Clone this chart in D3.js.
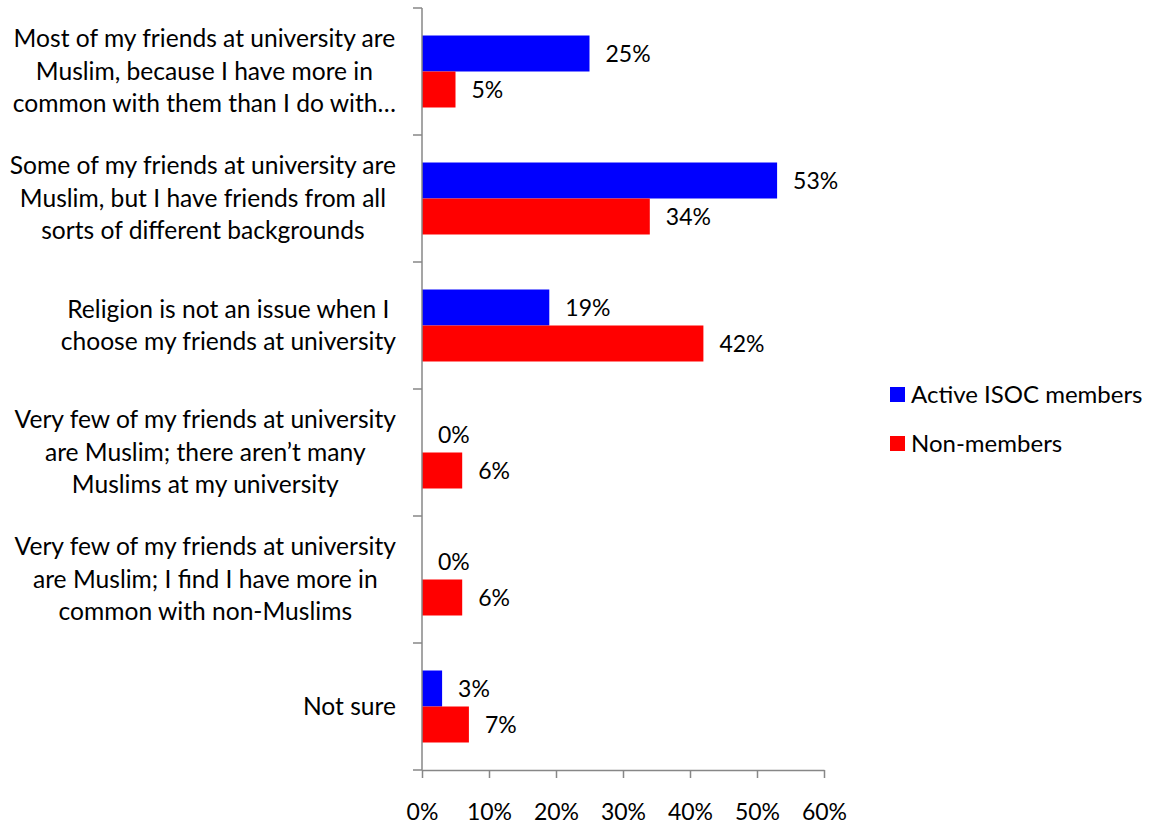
<!DOCTYPE html>
<html>
<head>
<meta charset="utf-8">
<script src="https://cdn.jsdelivr.net/npm/d3@7"></script>
<style>
  html, body { margin: 0; padding: 0; background: #fff; }
  svg { display: block; }
  text { font-family: Lato, "Open Sans", sans-serif; fill: #000; }
</style>
</head>
<body>
<svg id="chart" width="1151" height="826"></svg>
<script>
// Survey answers (wrapped as shown on the axis)
const categories = [
  "Most of my friends at university are\nMuslim, because I have more in\ncommon with them than I do with…",
  "Some of my friends at university are\nMuslim, but I have friends from all\nsorts of different backgrounds",
  "Religion is not an issue when I\nchoose my friends at university",
  "Very few of my friends at university\nare Muslim; there aren’t many\nMuslims at my university",
  "Very few of my friends at university\nare Muslim; I find I have more in\ncommon with non-Muslims",
  "Not sure"
];
const seriesNames = ["Active ISOC members", "Non-members"];
const activeMembers = [0.25, 0.53, 0.19, 0.00, 0.00, 0.03];
const nonMembers    = [0.05, 0.34, 0.42, 0.06, 0.06, 0.07];
const xTicks = [0, 0.1, 0.2, 0.3, 0.4, 0.5, 0.6];

const colors = { "Active ISOC members": "#0000ff", "Non-members": "#ff0000" };
const FS_CAT = 24.6;      // category label size
const FS_NUM = 23;        // value and tick label size
const FS_LEG = 24;        // legend size
const LINE = 32.5;        // label line spacing
const AXIS = "#878787";

const svg = d3.select("#chart");

const x = d3.scaleLinear().domain([0, 0.6]).range([422, 824]);
const y = d3.scaleBand().domain(categories).range([8, 770]).padding(0);
const ySub = d3.scaleBand().domain(seriesNames).range([0, y.bandwidth()])
  .paddingInner(0).paddingOuter(0.764);

const rows = categories.map((c, i) => ({
  cat: c,
  values: [
    { key: seriesNames[0], v: activeMembers[i] },
    { key: seriesNames[1], v: nonMembers[i] }
  ]
}));

// Bars
const g = svg.append("g");
const groups = g.selectAll("g.cat").data(rows).join("g")
  .attr("class", "cat")
  .attr("transform", d => `translate(0,${y(d.cat)})`);

groups.selectAll("rect").data(d => d.values).join("rect")
  .attr("x", x(0))
  .attr("y", d => ySub(d.key))
  .attr("width", d => x(d.v) - x(0))
  .attr("height", ySub.bandwidth())
  .attr("fill", d => colors[d.key]);

// Value labels
const fmt = d3.format(".0%");
groups.selectAll("text.val").data(d => d.values).join("text")
  .attr("class", "val")
  .attr("x", d => x(d.v) + 16)
  .attr("y", d => ySub(d.key) + ySub.bandwidth() / 2)
  .attr("dy", "0.36em")
  .attr("font-size", FS_NUM)
  .text(d => fmt(d.v));

// Y axis (line + ticks at category boundaries)
const yAxis = svg.append("g");
yAxis.append("line")
  .attr("x1", x(0)).attr("x2", x(0))
  .attr("y1", y.range()[0]).attr("y2", y.range()[1])
  .attr("stroke", AXIS).attr("stroke-width", 1.5);
const bounds = categories.map(c => y(c)).concat([y.range()[1]]);
yAxis.selectAll("line.tick").data(bounds).join("line")
  .attr("class", "tick")
  .attr("x1", x(0) - 9).attr("x2", x(0))
  .attr("y1", d => d).attr("y2", d => d)
  .attr("stroke", AXIS).attr("stroke-width", 1.5);

// Category labels: each block right-aligned, lines centred within it
const labelRight = 396;
categories.forEach(c => {
  const lines = c.split("\n");
  const cy = y(c) + y.bandwidth() / 2;
  const t = svg.append("g");
  const texts = lines.map((ln, i) => t.append("text")
    .attr("font-size", FS_CAT)
    .attr("text-anchor", "middle")
    .attr("y", cy + (i - (lines.length - 1) / 2) * LINE)
    .attr("dy", "0.34em")
    .text(ln));
  const maxW = d3.max(texts, s => s.node().getComputedTextLength());
  texts.forEach(s => s.attr("x", labelRight - maxW / 2));
});

// X axis
const xAxis = d3.axisBottom(x).tickValues(xTicks).tickFormat(fmt)
  .tickSize(8).tickSizeOuter(0).tickPadding(0);
const xg = svg.append("g").attr("transform", `translate(0,770)`).call(xAxis);
xg.select(".domain").attr("stroke", AXIS).attr("stroke-width", 1.5);
xg.selectAll(".tick line").attr("stroke", AXIS).attr("stroke-width", 1.5);
xg.selectAll(".tick text")
  .attr("y", 41.5).attr("dy", "0.36em")
  .attr("font-size", FS_NUM)
  .attr("font-family", "Lato, 'Open Sans', sans-serif")
  .attr("fill", "#000");

// Legend
const legend = svg.append("g").attr("transform", "translate(890,387)");
const li = legend.selectAll("g").data(seriesNames).join("g")
  .attr("transform", (d, i) => `translate(0,${i * 49})`);
li.append("rect").attr("width", 15).attr("height", 15).attr("fill", d => colors[d]);
li.append("text").attr("x", 21).attr("y", 7.5).attr("dy", "0.36em")
  .attr("font-size", FS_LEG).text(d => d);
</script>
</body>
</html>
